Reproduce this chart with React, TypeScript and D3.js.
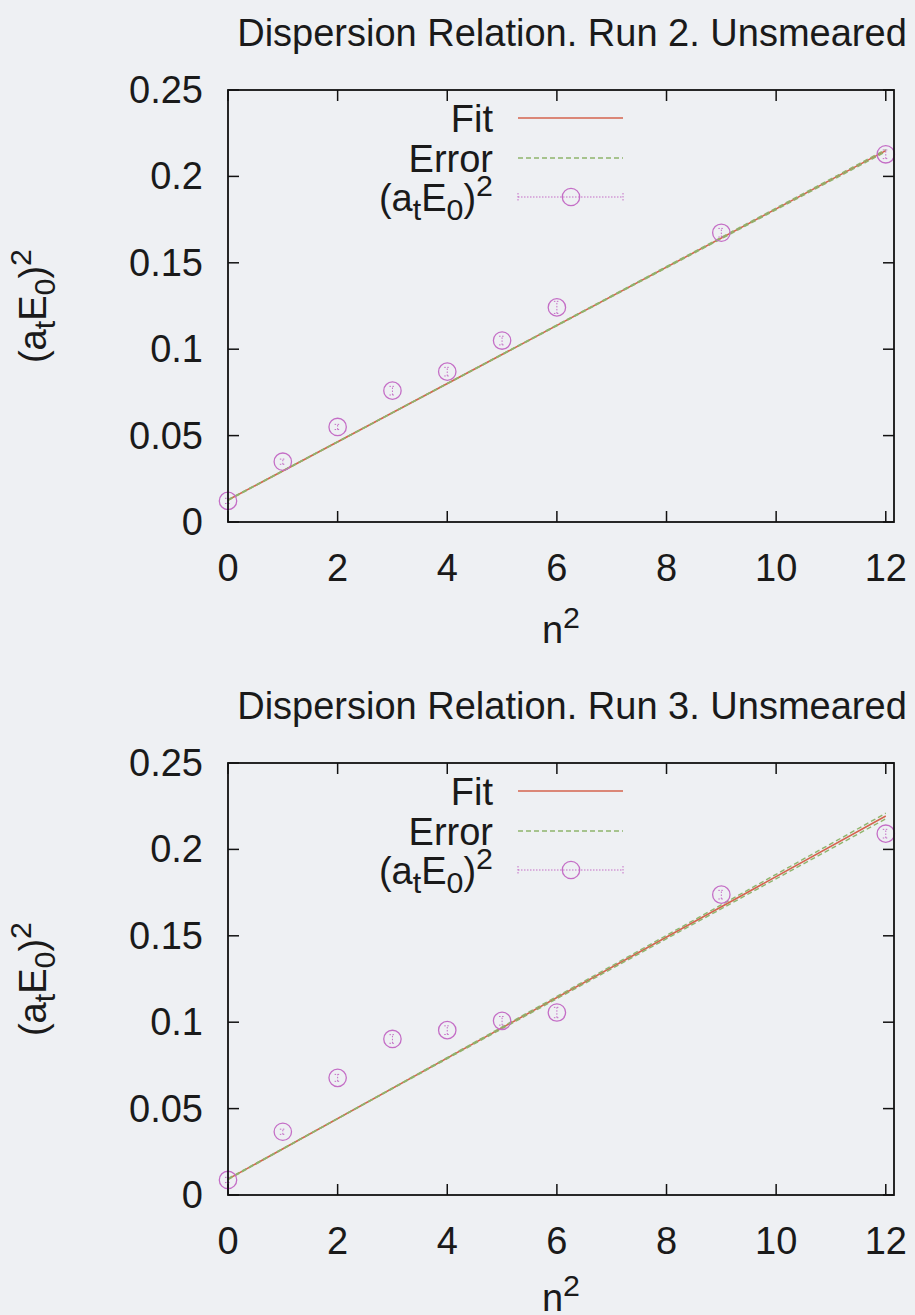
import React from "react";
import * as d3 from "d3";

const nSquared = [0, 1, 2, 3, 4, 5, 6, 9, 12];
const run2Energy = [0.0122, 0.0349, 0.055, 0.076, 0.087, 0.105, 0.1242, 0.1674, 0.2128];
const run2Error = [0.0015, 0.0015, 0.0015, 0.0025, 0.0025, 0.0025, 0.0035, 0.0025, 0.0025];
const run3Energy = [0.0087, 0.0366, 0.0678, 0.0903, 0.0954, 0.1008, 0.1056, 0.1738, 0.2091];
const run3Error = [0.0015, 0.0015, 0.002, 0.0025, 0.0025, 0.0025, 0.003, 0.0025, 0.0025];
// [intercept, slope]
const run2Fit = [0.0127, 0.01685];
const run2ErrUpper = [0.0125, 0.01692];
const run2ErrLower = [0.0129, 0.01678];
const run3Fit = [0.0092, 0.01751];
const run3ErrUpper = [0.0089, 0.01767];
const run3ErrLower = [0.0095, 0.01735];
const xTicks = [0, 2, 4, 6, 8, 10, 12];
const yTicks = [0, 0.05, 0.1, 0.15, 0.2, 0.25];
const titles = ["Dispersion Relation. Run 2. Unsmeared", "Dispersion Relation. Run 3. Unsmeared"];

const FONT = "'Liberation Sans', Arial, Helvetica, sans-serif";
const FS = 38;
const FIT_COLOR = "#d4644e";
const ERR_COLOR = "#8fb46c";
const PT_COLOR = "#c46ec6";

function Label({ x, y, anchor, rotate }: { x: number; y: number; anchor: string; rotate?: number }) {
  return (
    <text x={x} y={y} textAnchor={anchor} fontFamily={FONT} fontSize={FS} fill="#1a1a1a"
      transform={rotate ? `rotate(${rotate},${x},${y})` : undefined}>
      <tspan>(a</tspan>
      <tspan fontSize={FS * 0.8} dy={9}>t</tspan>
      <tspan dy={-9}>E</tspan>
      <tspan fontSize={FS * 0.8} dy={9}>0</tspan>
      <tspan dy={-9}>)</tspan>
      <tspan fontSize={FS * 0.8} dy={-15}>2</tspan>
    </text>
  );
}

function Panel({ top, title, energy, errs, fit, errU, errL, xLabelY }: any) {
  const x = d3.scaleLinear().domain([0, 12.15]).range([228, 894]);
  const y = d3.scaleLinear().domain([0, 0.25]).range([top + 432, top]);
  const line = (p: number[]) => d3.line<number>().x((d) => x(d)).y((d) => y(p[0] + p[1] * d))([0, 12]) as string;
  const left = x(0), right = x(12.15), bottom = y(0), tp = y(0.25);
  const tick = 11;
  const legX1 = 518, legX2 = 623;
  const rowY = [top + 28, top + 68, top + 107];
  return (
    <g>
      <text x={572} y={top - 44} textAnchor="middle" fontFamily={FONT} fontSize={FS} fill="#1a1a1a">{title}</text>
      {xTicks.map((t) => (
        <g key={"x" + t}>
          <line x1={x(t)} x2={x(t)} y1={bottom} y2={bottom - tick} stroke="#111" strokeWidth={1.5} />
          <line x1={x(t)} x2={x(t)} y1={tp} y2={tp + tick} stroke="#111" strokeWidth={1.5} />
          <text x={x(t)} y={bottom + 59} textAnchor="middle" fontFamily={FONT} fontSize={FS} fill="#1a1a1a">{t}</text>
        </g>
      ))}
      {yTicks.map((t) => (
        <g key={"y" + t}>
          <line x1={left} x2={left + tick} y1={y(t)} y2={y(t)} stroke="#111" strokeWidth={1.5} />
          <line x1={right} x2={right - tick} y1={y(t)} y2={y(t)} stroke="#111" strokeWidth={1.5} />
          <text x={203} y={y(t) + 13} textAnchor="end" fontFamily={FONT} fontSize={FS} fill="#1a1a1a">{String(t)}</text>
        </g>
      ))}
      {/* legend */}
      <text x={493} y={rowY[0] + 14} textAnchor="end" fontFamily={FONT} fontSize={FS} fill="#1a1a1a">Fit</text>
      <line x1={legX1} x2={legX2} y1={rowY[0]} y2={rowY[0]} stroke={FIT_COLOR} strokeWidth={1.6} />
      <text x={493} y={rowY[1] + 14} textAnchor="end" fontFamily={FONT} fontSize={FS} fill="#1a1a1a">Error</text>
      <line x1={legX1} x2={legX2} y1={rowY[1]} y2={rowY[1]} stroke={ERR_COLOR} strokeWidth={1.3} strokeDasharray="5,3" />
      <Label x={493} y={rowY[2] + 14} anchor="end" />
      <line x1={legX1} x2={legX2} y1={rowY[2]} y2={rowY[2]} stroke={PT_COLOR} strokeWidth={1} strokeDasharray="1.5,1.5" />
      <line x1={legX1} x2={legX1} y1={rowY[2] - 4} y2={rowY[2] + 4} stroke={PT_COLOR} strokeWidth={1} strokeDasharray="1.5,1.5" />
      <line x1={legX2} x2={legX2} y1={rowY[2] - 4} y2={rowY[2] + 4} stroke={PT_COLOR} strokeWidth={1} strokeDasharray="1.5,1.5" />
      <circle cx={571} cy={rowY[2]} r={8.7} fill="none" stroke={PT_COLOR} strokeWidth={1.3} />
      {/* lines: fit below error lines so the overlap turns olive */}
      <path d={line(fit)} stroke={FIT_COLOR} strokeWidth={1.6} fill="none" />
      <path d={line(errU)} stroke={ERR_COLOR} strokeWidth={1.4} fill="none" strokeDasharray="5,3" />
      <path d={line(errL)} stroke={ERR_COLOR} strokeWidth={1.4} fill="none" strokeDasharray="5,3" />
      {nSquared.map((n, i) => {
        const cx = x(n), cy = y(energy[i]);
        const y1 = y(energy[i] - errs[i]), y2 = y(energy[i] + errs[i]);
        return (
          <g key={"p" + i}>
            <line x1={cx} x2={cx} y1={y1} y2={y2} stroke={PT_COLOR} strokeWidth={1} strokeDasharray="1.5,1.5" />
            <line x1={cx - 3} x2={cx + 3} y1={y1} y2={y1} stroke={PT_COLOR} strokeWidth={1} strokeDasharray="1.5,1.5" />
            <line x1={cx - 3} x2={cx + 3} y1={y2} y2={y2} stroke={PT_COLOR} strokeWidth={1} strokeDasharray="1.5,1.5" />
            <circle cx={cx} cy={cy} r={8.7} fill="none" stroke={PT_COLOR} strokeWidth={1.3} />
          </g>
        );
      })}
      <rect x={left} y={tp} width={right - left} height={bottom - tp} fill="none" stroke="#111" strokeWidth={1.8} />
      <Label x={46} y={(tp + bottom) / 2} anchor="middle" rotate={-90} />
      <text x={561} y={xLabelY} textAnchor="middle" fontFamily={FONT} fontSize={FS} fill="#1a1a1a">
        n<tspan fontSize={FS * 0.8} dy={-15}>2</tspan>
      </text>
    </g>
  );
}

export default function App() {
  return (
    <div style={{ position: "absolute", left: 0, top: 0 }}>
      <svg width={915} height={1315} viewBox="0 0 915 1315">
        <rect x={0} y={0} width={915} height={1315} fill="#eef0f3" />
        <Panel top={90} title={titles[0]} energy={run2Energy} errs={run2Error} fit={run2Fit} errU={run2ErrUpper} errL={run2ErrLower} xLabelY={643} />
        <Panel top={763} title={titles[1]} energy={run3Energy} errs={run3Error} fit={run3Fit} errU={run3ErrUpper} errL={run3ErrLower} xLabelY={1311} />
      </svg>
    </div>
  );
}
